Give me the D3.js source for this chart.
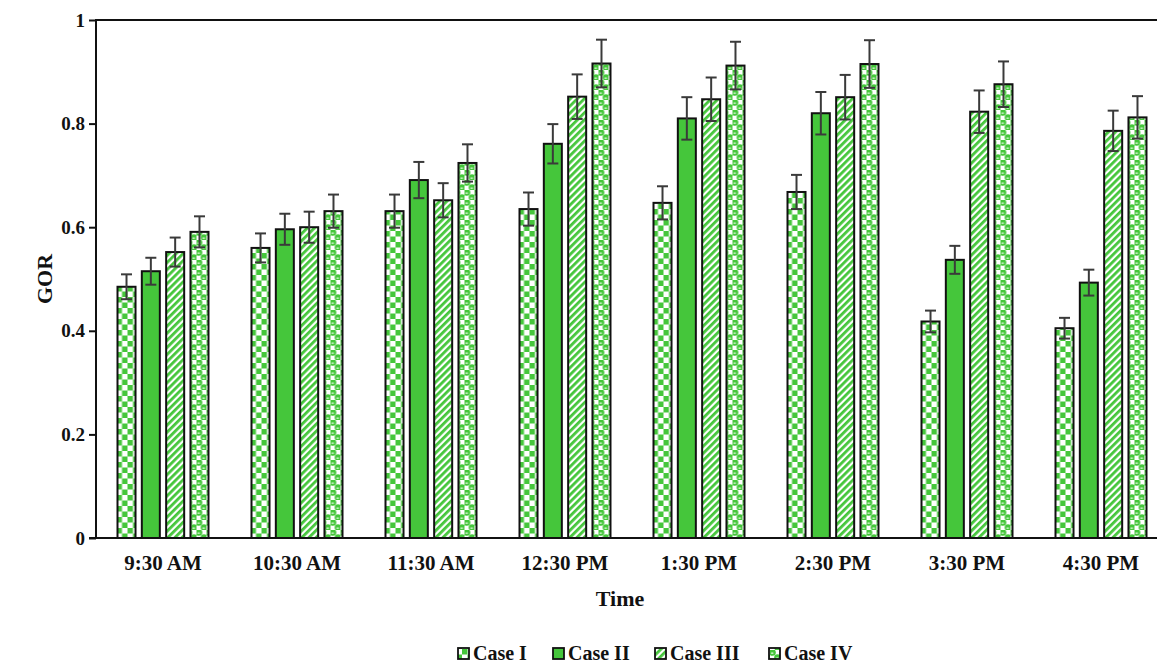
<!DOCTYPE html>
<html>
<head>
<meta charset="utf-8">
<script src="https://cdn.jsdelivr.net/npm/d3@7"></script>
<style>
  html, body { margin: 0; padding: 0; background: #fff; }
  svg { display: block; }
  text { font-family: "Liberation Serif", "Times New Roman", serif; font-weight: bold; fill: #111; }
</style>
</head>
<body>
<svg id="chart" width="1157" height="665"></svg>
<script>
// Time of day on the x axis
const times = ["9:30 AM", "10:30 AM", "11:30 AM", "12:30 PM", "1:30 PM", "2:30 PM", "3:30 PM", "4:30 PM"];
const cases = ["Case I", "Case II", "Case III", "Case IV"];

// GOR per case
const caseI   = [0.485, 0.560, 0.631, 0.635, 0.647, 0.668, 0.418, 0.405];
const caseII  = [0.515, 0.596, 0.691, 0.761, 0.810, 0.820, 0.537, 0.493];
const caseIII = [0.552, 0.600, 0.652, 0.852, 0.847, 0.851, 0.823, 0.786];
const caseIV  = [0.591, 0.631, 0.724, 0.916, 0.912, 0.915, 0.876, 0.812];

// Error bar half-lengths per case
const errI   = [0.024, 0.028, 0.032, 0.032, 0.032, 0.033, 0.021, 0.020];
const errII  = [0.026, 0.030, 0.035, 0.038, 0.041, 0.041, 0.027, 0.025];
const errIII = [0.028, 0.030, 0.033, 0.043, 0.042, 0.043, 0.041, 0.039];
const errIV  = [0.030, 0.032, 0.036, 0.046, 0.046, 0.046, 0.044, 0.041];

const yTicks = [0, 0.2, 0.4, 0.6, 0.8, 1];

const seriesValues = [caseI, caseII, caseIII, caseIV];
const seriesErrors = [errI, errII, errIII, errIV];

const GREEN = "#45c63b";

const svg = d3.select("#chart");
const defs = svg.append("defs");

// Checkerboard fill
const pChk = defs.append("pattern").attr("id", "pat0")
  .attr("patternUnits", "userSpaceOnUse").attr("width", 11).attr("height", 11);
pChk.append("rect").attr("width", 11).attr("height", 11).attr("fill", "#fff");
pChk.append("rect").attr("x", 0).attr("y", 0).attr("width", 5.5).attr("height", 5.5).attr("fill", GREEN);
pChk.append("rect").attr("x", 5.5).attr("y", 5.5).attr("width", 5.5).attr("height", 5.5).attr("fill", GREEN);

// Solid fill
const pSolid = defs.append("pattern").attr("id", "pat1")
  .attr("patternUnits", "userSpaceOnUse").attr("width", 10).attr("height", 10);
pSolid.append("rect").attr("width", 10).attr("height", 10).attr("fill", GREEN);

// Wide upward diagonal stripes
const pDiag = defs.append("pattern").attr("id", "pat2")
  .attr("patternUnits", "userSpaceOnUse").attr("width", 5).attr("height", 5)
  .attr("patternTransform", "rotate(45)");
pDiag.append("rect").attr("width", 5).attr("height", 5).attr("fill", "#fff");
pDiag.append("rect").attr("width", 2.8).attr("height", 5).attr("fill", GREEN);

// Spheres
const pSph = defs.append("pattern").attr("id", "pat3")
  .attr("patternUnits", "userSpaceOnUse").attr("width", 10).attr("height", 10);
pSph.append("rect").attr("width", 10).attr("height", 10).attr("fill", "#fff");
[[2.5, 2.5], [7.5, 7.5]].forEach(([cx, cy]) => {
  pSph.append("circle").attr("cx", cx).attr("cy", cy).attr("r", 3.3).attr("fill", GREEN);
  pSph.append("ellipse").attr("cx", cx - 0.3).attr("cy", cy + 0.6).attr("rx", 1.5).attr("ry", 0.7).attr("fill", "#fff");
});

// Plot frame
const plotLeft = 96, plotTop = 20, plotBottom = 538;
const plotWidth = 1072;

const x0 = d3.scaleBand().domain(times).range([plotLeft, plotLeft + plotWidth])
  .paddingInner(0.306).paddingOuter(0.153);
const x1 = d3.scaleBand().domain(cases).range([0, x0.bandwidth()])
  .paddingInner(0.177).paddingOuter(0);
const y = d3.scaleLinear().domain([0, 1]).range([plotBottom, plotTop]);

// Bars
const groups = svg.append("g").selectAll("g").data(times).join("g")
  .attr("transform", d => `translate(${x0(d)},0)`);

groups.each(function(t, ti) {
  const g = d3.select(this);
  cases.forEach((c, ci) => {
    const v = seriesValues[ci][ti];
    const bx = x1(c), bw = x1.bandwidth();
    g.append("rect")
      .attr("x", bx + 1).attr("y", y(v))
      .attr("width", bw - 2).attr("height", y(0) - y(v))
      .attr("fill", `url(#pat${ci})`)
      .attr("stroke", "#111").attr("stroke-width", 2);
  });
});

// Error bars
groups.each(function(t, ti) {
  const g = d3.select(this);
  cases.forEach((c, ci) => {
    const v = seriesValues[ci][ti], e = seriesErrors[ci][ti];
    const cx = x1(c) + x1.bandwidth() / 2;
    const eg = g.append("g").attr("stroke", "#3a3a3a").attr("stroke-width", 2);
    eg.append("line").attr("x1", cx).attr("x2", cx).attr("y1", y(v + e)).attr("y2", y(v - e));
    eg.append("line").attr("x1", cx - 5.5).attr("x2", cx + 5.5).attr("y1", y(v + e)).attr("y2", y(v + e));
    eg.append("line").attr("x1", cx - 5.5).attr("x2", cx + 5.5).attr("y1", y(v - e)).attr("y2", y(v - e));
  });
});

// Y axis
const yAxis = d3.axisLeft(y).tickValues(yTicks)
  .tickFormat(d => d === 0 ? "0" : d === 1 ? "1" : d3.format(".1f")(d))
  .tickSize(7).tickPadding(4);
const yg = svg.append("g").attr("transform", `translate(${plotLeft},0)`).call(yAxis);
yg.select(".domain").remove();
yg.selectAll(".tick line").attr("stroke", "#111").attr("stroke-width", 2);
yg.selectAll(".tick text").attr("font-size", 19).attr("font-family", "Liberation Serif").attr("font-weight", "bold").attr("fill", "#111");
svg.append("line").attr("x1", plotLeft).attr("x2", plotLeft).attr("y1", plotTop - 1).attr("y2", plotBottom + 1)
  .attr("stroke", "#111").attr("stroke-width", 2);

// Top border of the plot
svg.append("line").attr("x1", plotLeft).attr("x2", plotLeft + plotWidth).attr("y1", plotTop).attr("y2", plotTop)
  .attr("stroke", "#111").attr("stroke-width", 2);

// X axis
const xAxis = d3.axisBottom(x0).tickSize(0).tickPadding(17);
const xg = svg.append("g").attr("transform", `translate(0,${plotBottom})`).call(xAxis);
xg.select(".domain").remove();
xg.selectAll(".tick text").attr("font-size", 21).attr("font-family", "Liberation Serif").attr("font-weight", "bold").attr("fill", "#111");
svg.append("line").attr("x1", plotLeft - 7).attr("x2", plotLeft + plotWidth).attr("y1", plotBottom).attr("y2", plotBottom)
  .attr("stroke", "#111").attr("stroke-width", 2);

// Axis titles
svg.append("text").attr("x", 620).attr("y", 606).attr("text-anchor", "middle")
  .attr("font-size", 22).text("Time");
svg.append("text").attr("transform", "translate(52,279) rotate(-90)").attr("text-anchor", "middle")
  .attr("font-size", 22).text("GOR");

// Legend
const legendX = [458, 553, 655, 769];
const lg = svg.append("g");
cases.forEach((c, i) => {
  lg.append("rect").attr("x", legendX[i]).attr("y", 648).attr("width", 11).attr("height", 11)
    .attr("fill", `url(#pat${i})`).attr("stroke", "#111").attr("stroke-width", 1.8);
  lg.append("text").attr("x", legendX[i] + 15).attr("y", 660).attr("font-size", 20).text(c);
});
</script>
</body>
</html>
